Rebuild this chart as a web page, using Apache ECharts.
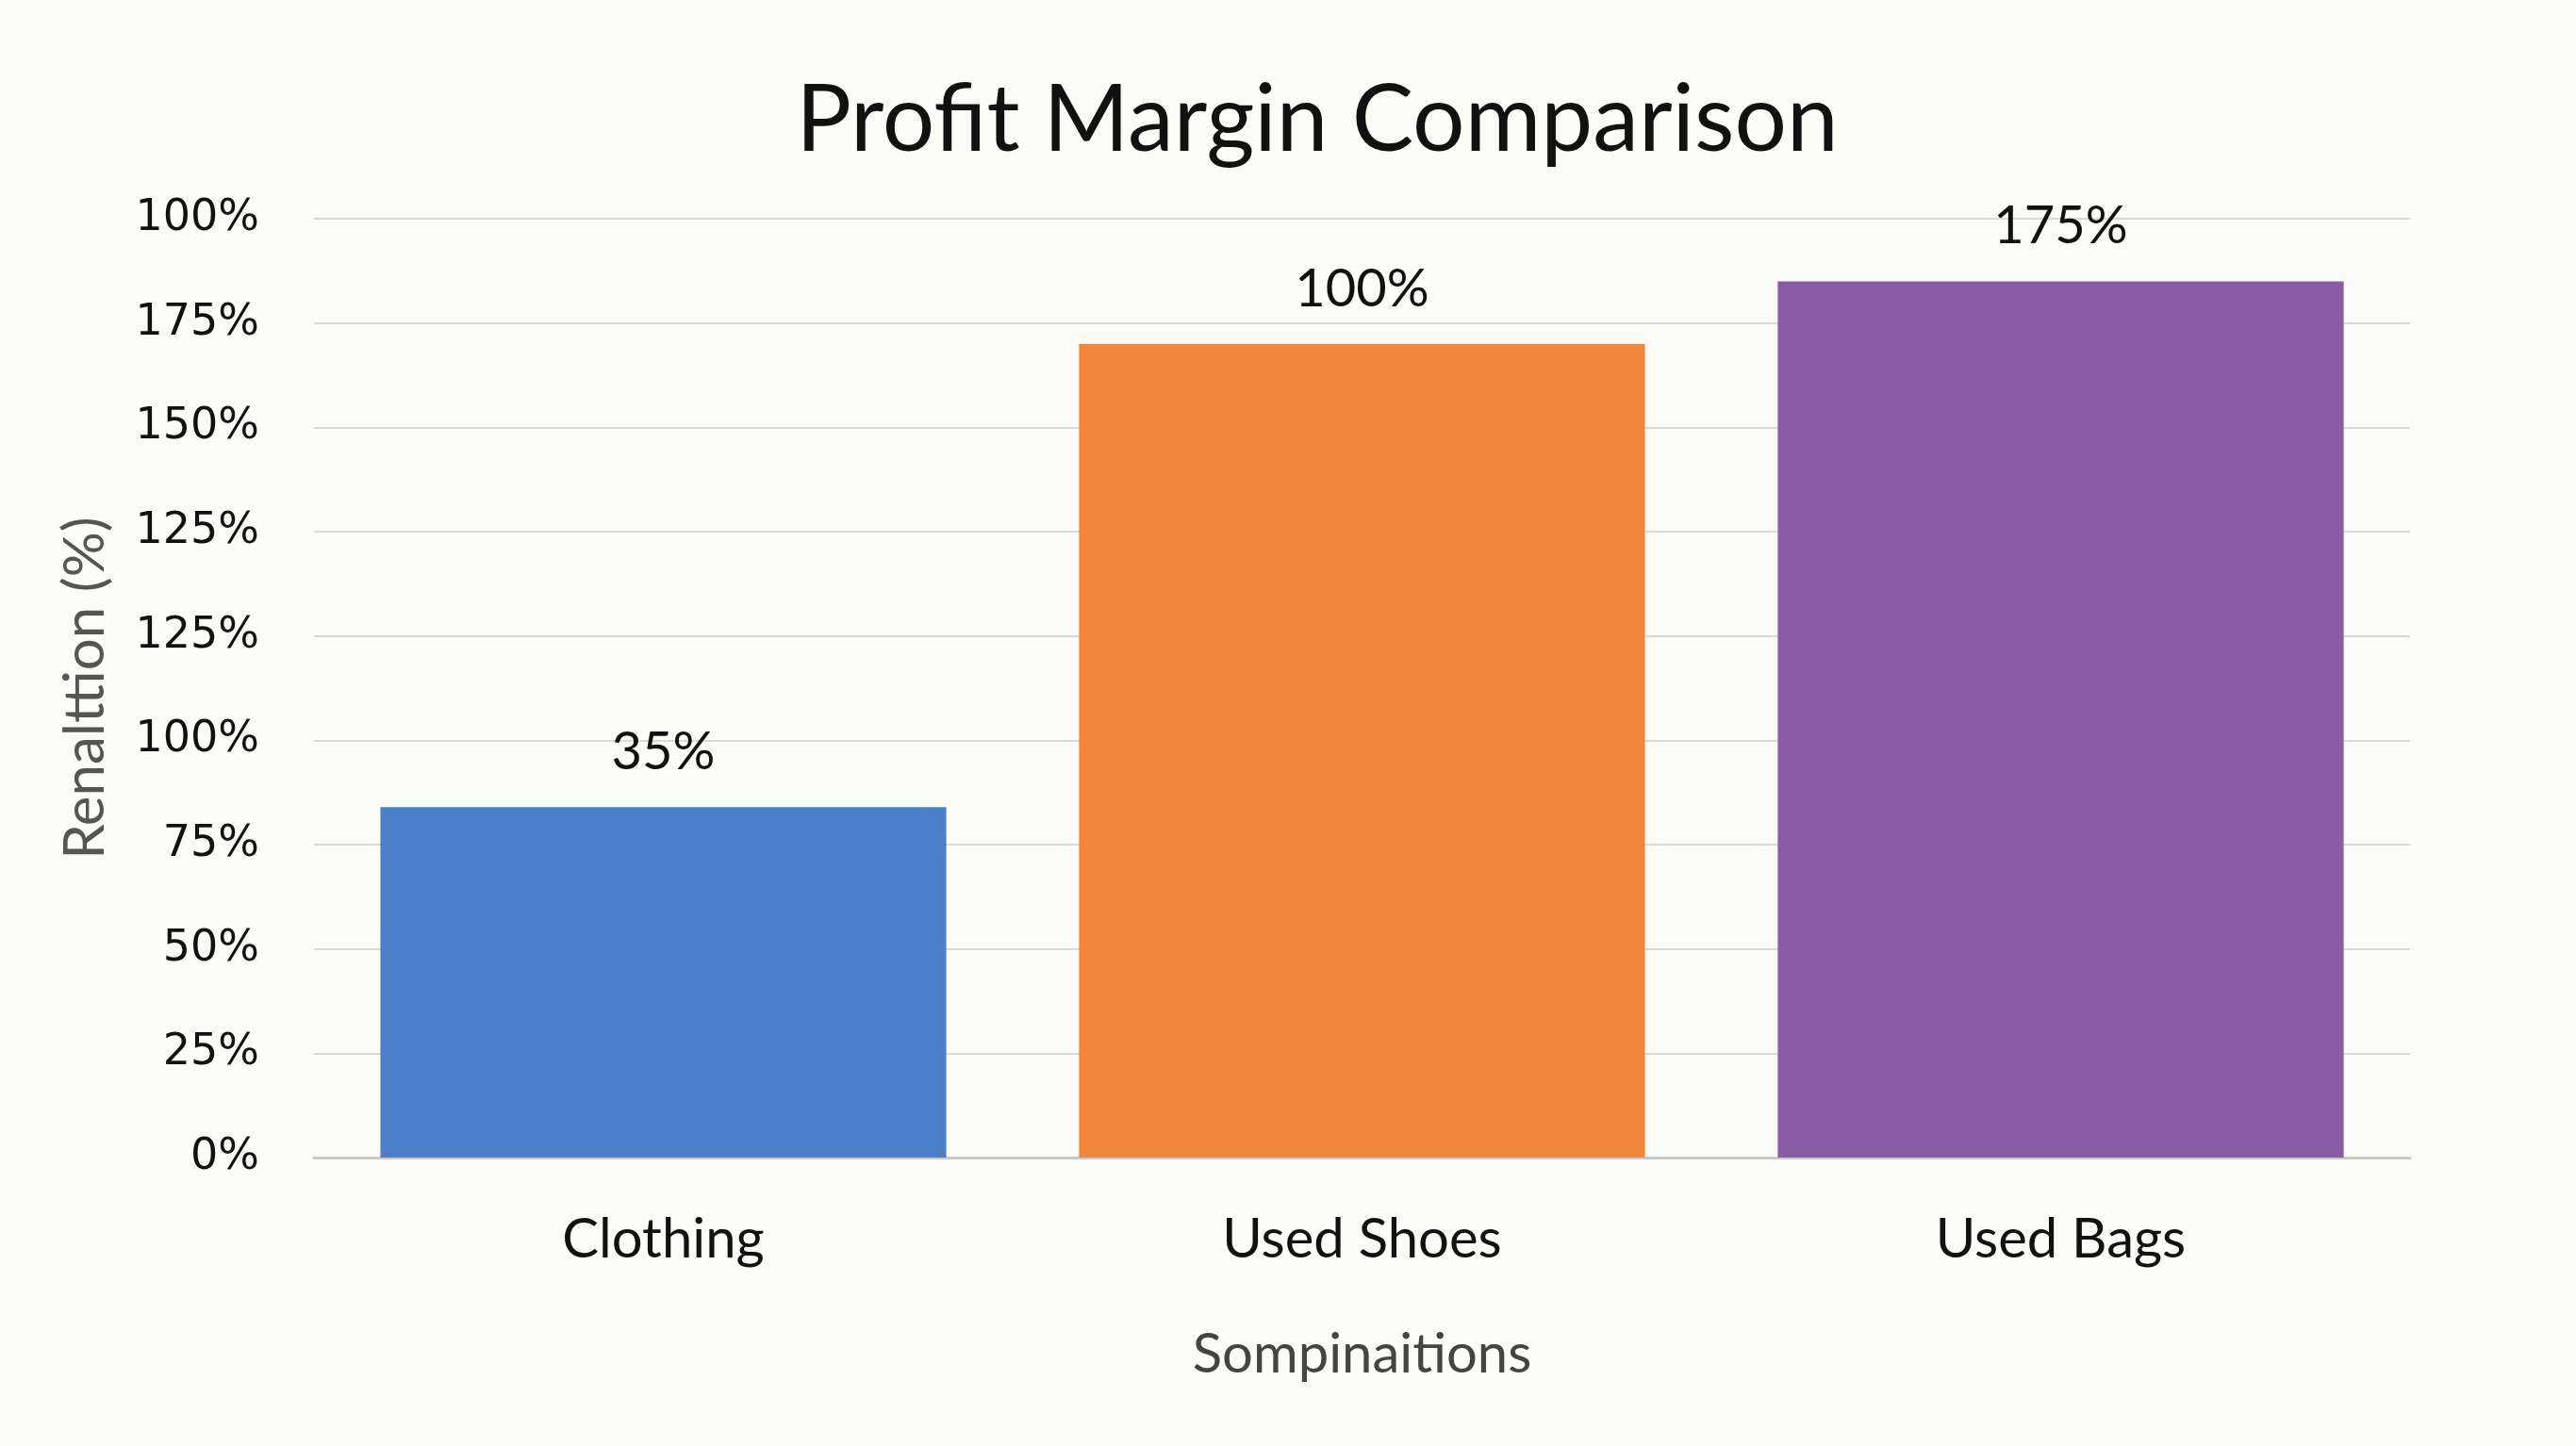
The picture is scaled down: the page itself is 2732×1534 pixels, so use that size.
<!DOCTYPE html>
<html>
<head>
<meta charset="utf-8">
<script src="https://cdn.jsdelivr.net/npm/echarts@6/dist/echarts.min.js"></script>
<style>
  html, body { margin: 0; padding: 0; background: #fbfbf8; }
  #chart { width: 2732px; height: 1534px; }
</style>
</head>
<body>
<div id="chart"></div>
<script>
// chart data
var categories = ['Clothing', 'Used Shoes', 'Used Bags'];
var barValues = [84, 195, 210];
var barLabels = ['35%', '100%', '175%'];
var barColors = ['#4a80c8', '#f2863a', '#8b5ba5'];
// tick labels as printed on the axis (bottom to top)
var tickLabels = ['0%', '25%', '50%', '75%', '100%', '125%', '125%', '150%', '175%', '100%'];

var chart = echarts.init(document.getElementById('chart'));

var option = {
    backgroundColor: '#fbfbf8',
    title: {
        text: 'Profit Margin Comparison',
        left: 1392,
        textAlign: 'center',
        top: 74,
        textStyle: {
            fontFamily: 'Lato',
            fontWeight: 'normal',
            fontSize: 98,
            color: '#111'
        }
    },
    grid: {
        left: 333,
        right: 176,
        top: 232,
        bottom: 306
    },
    xAxis: {
        type: 'category',
        data: categories,
        name: 'Sompinaitions',
        nameLocation: 'middle',
        nameGap: 180,
        nameTextStyle: {
            fontFamily: 'Lato',
            fontSize: 58,
            color: '#444'
        },
        axisLine: { lineStyle: { color: '#c9c9c9', width: 3 } },
        axisTick: { show: false },
        axisLabel: {
            margin: 58,
            fontFamily: 'Lato',
            fontSize: 58,
            color: '#111'
        }
    },
    yAxis: {
        type: 'value',
        min: 0,
        max: 225,
        interval: 25,
        name: 'Renalttion (%)',
        nameLocation: 'middle',
        nameRotate: 90,
        nameGap: 212,
        nameTextStyle: {
            fontFamily: 'Lato',
            fontSize: 60,
            color: '#555'
        },
        axisLine: { show: false },
        axisTick: { show: false },
        splitLine: { lineStyle: { color: '#dadada', width: 2 } },
        axisLabel: {
            margin: 58,
            fontFamily: 'DejaVu Sans',
            fontSize: 46,
            color: '#111',
            formatter: function (v) {
                return tickLabels[Math.round(v / 25)];
            }
        }
    },
    series: [{
        type: 'bar',
        barWidth: '81%',
        data: barValues.map(function (v, i) {
            return { value: v, itemStyle: { color: barColors[i] } };
        }),
        label: {
            show: true,
            position: 'top',
            distance: 30,
            fontFamily: 'Lato',
            fontSize: 56,
            color: '#111',
            formatter: function (p) {
                return barLabels[p.dataIndex];
            }
        }
    }]
};

chart.setOption(option);
</script>
</body>
</html>
